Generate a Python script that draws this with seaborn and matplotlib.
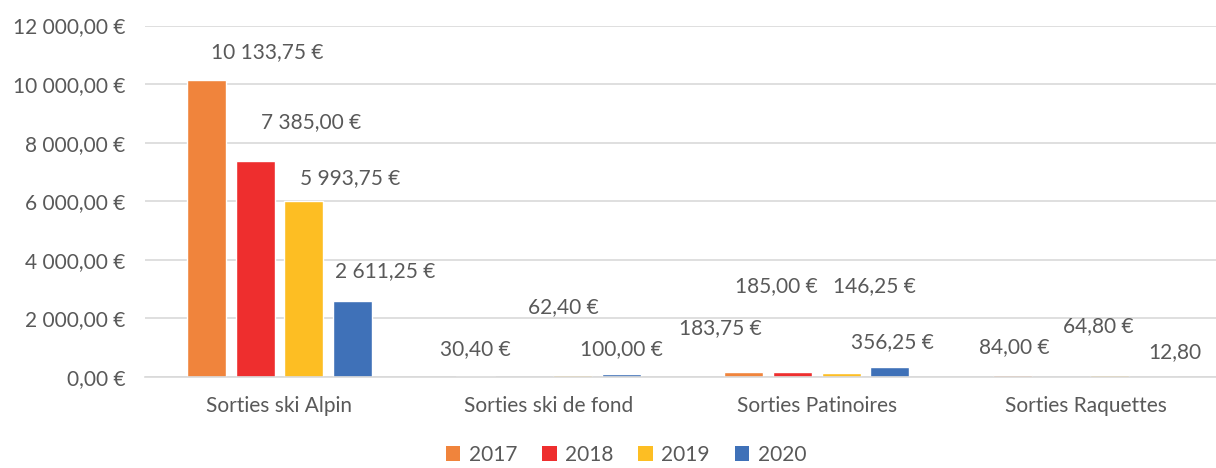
import numpy as np
import pandas as pd
import matplotlib
matplotlib.use("Agg")
import matplotlib.pyplot as plt
import seaborn as sns
from matplotlib.patches import Patch

categories = ["Sorties ski Alpin", "Sorties ski de fond", "Sorties Patinoires", "Sorties Raquettes"]
years = ["2017", "2018", "2019", "2020"]
v2017 = [10133.75, 30.40, 183.75, 84.00]
v2018 = [7385.00, np.nan, 185.00, np.nan]
v2019 = [5993.75, 62.40, 146.25, 64.80]
v2020 = [2611.25, 100.00, 356.25, 12.80]
label_override = {("Sorties Raquettes", "2020"): "12,80"}

colors = ["#F0843C", "#EE2E2E", "#FDBE23", "#3F71B8"]
TEXT = "#595959"
GRID = "#D9D9D9"

sns.set_theme(style="white")
plt.rcParams["font.family"] = ["Lato", "DejaVu Sans"]

rows = []
for yr, vals in zip(years, [v2017, v2018, v2019, v2020]):
    for c, v in zip(categories, vals):
        rows.append({"cat": c, "year": yr, "val": v})
df = pd.DataFrame(rows)

fig = plt.figure(figsize=(12.16, 4.68), dpi=100)
ax = fig.add_axes([145 / 1216, 1 - 377 / 468, 1075 / 1216, (377 - 25.5) / 468])

sns.barplot(data=df, x="cat", y="val", hue="year", order=categories, hue_order=years,
            palette=colors, width=0.725, gap=0.2, ax=ax, legend=False, saturation=1,
            errorbar=None)

ax.set_xlim(-0.5, 3.5)
ax.set_ylim(0, 12000)
yt = np.arange(0, 12001, 2000)
ax.set_yticks(yt)
def fmt(v):
    s = f"{v:,.2f}".replace(",", " ").replace(".", ",")
    return s + " €"
ax.set_yticklabels([fmt(v) for v in yt], color=TEXT, fontsize=15)
ax.tick_params(axis="y", length=0, pad=14)
ax.tick_params(axis="x", length=0, pad=14, labelsize=15, labelcolor=TEXT)
ax.set_xlabel("")
ax.set_ylabel("")
ax.grid(axis="y", color=GRID, linewidth=1.2)
ax.set_axisbelow(True)
for s in ["top", "right", "left"]:
    ax.spines[s].set_visible(False)
ax.spines["bottom"].set_color(GRID)
ax.spines["bottom"].set_linewidth(1.2)

# label offsets in pixels (dx, dy relative to bar top center)
offsets = {
    ("Sorties ski Alpin", "2017"): (61, 28),
    ("Sorties ski Alpin", "2018"): (56, 39),
    ("Sorties ski Alpin", "2019"): (46, 23),
    ("Sorties ski Alpin", "2020"): (33, 29),
    ("Sorties ski de fond", "2017"): (0, 27),
    ("Sorties ski de fond", "2019"): (-9, 68),
    ("Sorties ski de fond", "2020"): (0, 25),
    ("Sorties Patinoires", "2017"): (-23, 44),
    ("Sorties Patinoires", "2018"): (-16, 85),
    ("Sorties Patinoires", "2019"): (33, 87),
    ("Sorties Patinoires", "2020"): (2, 24),
    ("Sorties Raquettes", "2017"): (2, 27),
    ("Sorties Raquettes", "2019"): (-12, 49),
    ("Sorties Raquettes", "2020"): (16, 25),
}

for yr, cont in zip(years, ax.containers):
    sub = df[df.year == yr].set_index("cat")
    for bar in cont:
        xc = bar.get_x() + bar.get_width() / 2
        c = categories[int(round(xc))]
        v = sub.loc[c, "val"]
        if np.isnan(v):
            continue
        dx, dy = offsets.get((c, yr), (0, 20))
        txt = label_override.get((c, yr), fmt(v))
        ax.annotate(txt, (xc, bar.get_height()),
                    xytext=(dx, dy), textcoords="offset pixels",
                    ha="center", va="center", fontsize=15, color=TEXT,
                    annotation_clip=False)

handles = [Patch(facecolor=c, edgecolor="none") for c in colors]
fig.legend(handles, years, loc="center", bbox_to_anchor=(626 / 1216, 1 - 455 / 468),
           ncol=4, frameon=False, fontsize=15, handlelength=0.7, handleheight=0.7,
           handletextpad=0.4, columnspacing=1.2, labelcolor=TEXT)

fig.savefig("out.png", dpi=100)
